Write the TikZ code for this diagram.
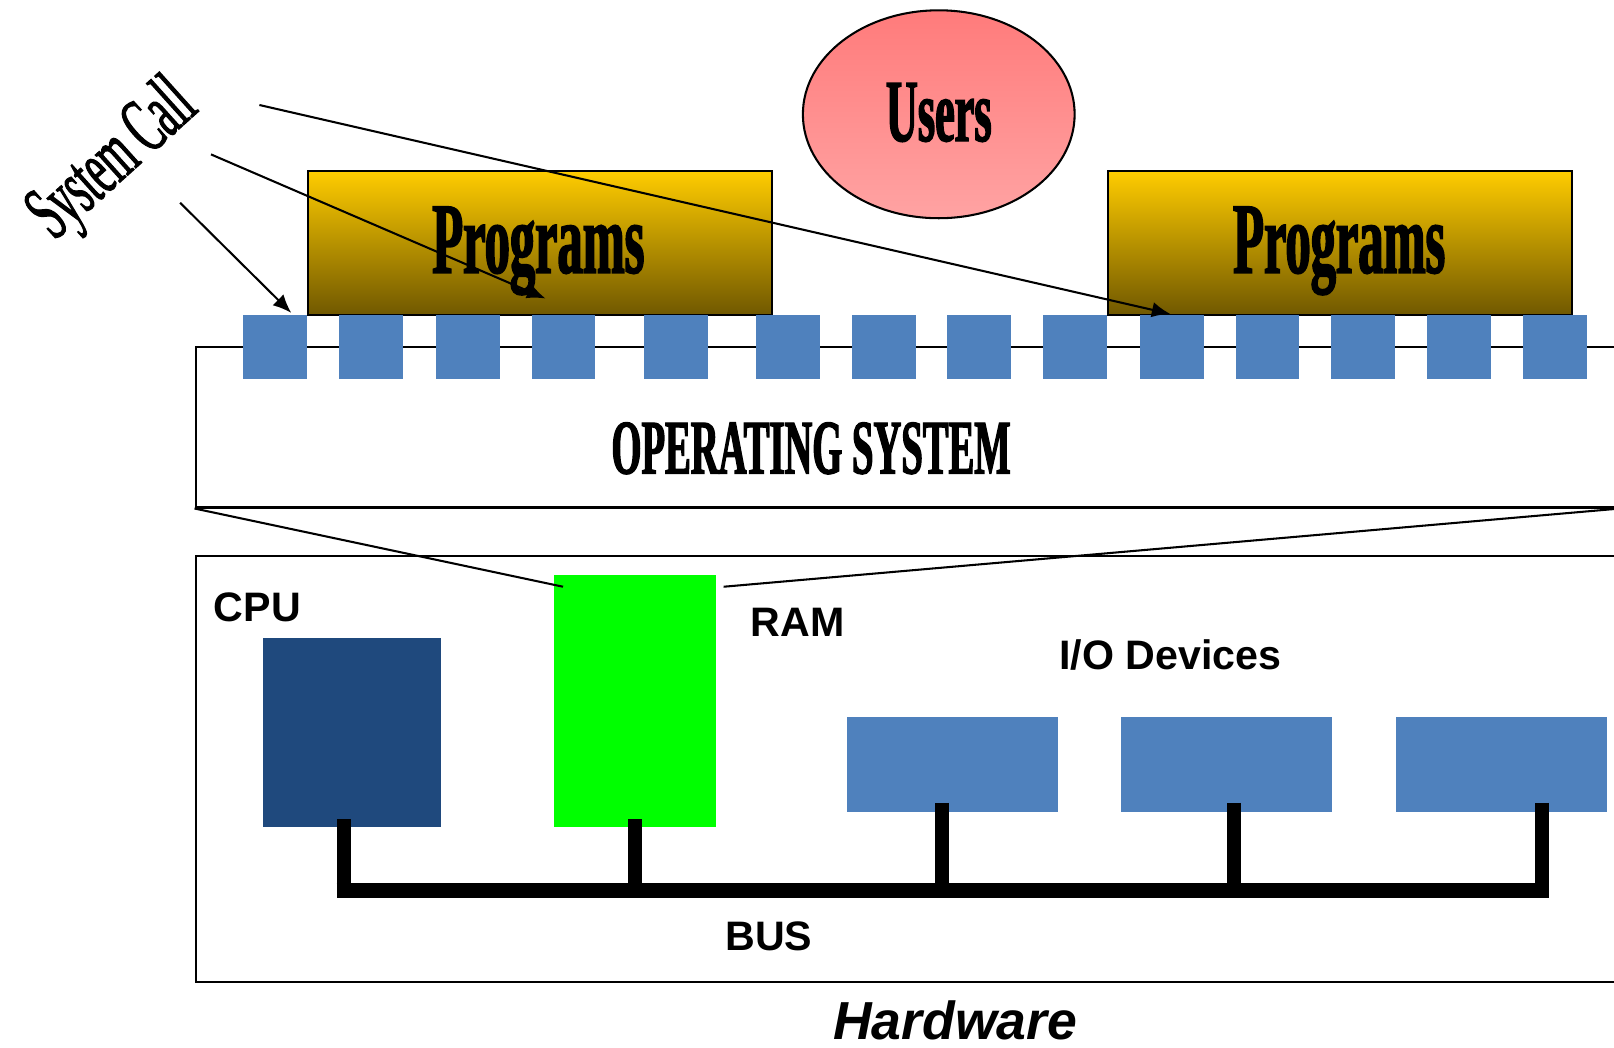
\documentclass[tikz,border=0pt]{standalone}
\usepackage{fontspec}
\setmainfont{Liberation Serif}
\setsansfont{Liberation Sans}
\newfontfamily\condfont[FakeStretch=0.5,BoldFeatures={FakeBold=1.6}]{Liberation Serif}
\newfontfamily\condmed[FakeStretch=0.5,FakeBold=1.3]{Liberation Serif}
\usetikzlibrary{shapes.geometric,arrows.meta}
\definecolor{sqblue}{HTML}{4F81BD}
\definecolor{cpublue}{HTML}{1F497D}
\definecolor{ramgreen}{HTML}{00FF00}
\definecolor{progtop}{HTML}{FFCC00}
\definecolor{progbot}{HTML}{705800}
\definecolor{usertop}{HTML}{FF7B7B}
\definecolor{userbot}{HTML}{FFA3A3}
\begin{document}
\begin{tikzpicture}[x=0.5pt,y=-0.5pt,
  box/.style={rectangle,inner sep=0pt,anchor=north west},
  sqr/.style={box,fill=sqblue,minimum width=31pt,minimum height=31pt},
  progbox/.style={box,draw=black,line width=1pt,top color=progtop,bottom color=progbot,minimum width=225.5pt,minimum height=70pt},
  iobox/.style={box,fill=sqblue,minimum width=102.5pt,minimum height=46pt},
  frame/.style={box,draw=black,line width=1pt},
  cond/.style={inner sep=0pt,font=\condfont\bfseries},
  lab/.style={inner sep=0pt,font=\sffamily\bfseries\fontsize{20pt}{20pt}\selectfont},
  callarrow/.style={draw=black,line width=1pt,-{Latex[length=9pt,width=7.5pt]}},
  thin/.style={draw=black,line width=1pt},
  bus/.style={draw=black,line width=7pt,line cap=butt}
]
\useasboundingbox (0,0) rectangle (1568,1018);
\fill[white] (0,0) rectangle (1568,1018);
\clip (0,0) rectangle (1568,1018);

% users
\node[ellipse,draw=black,line width=1pt,top color=usertop,bottom color=userbot,
      minimum width=132pt,minimum height=101pt,inner sep=0pt] (users) at (912,111) {};
\node[cond,anchor=base,font=\condfont\bfseries\fontsize{43pt}{43pt}\selectfont] (userslab) at (912,137) {Users};

% programs
\node[progbox] (prog1) at (298,165) {};
\node[progbox] (prog2) at (1075,165) {};
\node[cond,anchor=base,font=\condfont\bfseries\fontsize{49pt}{49pt}\selectfont] (prog1lab) at (523,265) {Programs};
\node[cond,anchor=base,font=\condfont\bfseries\fontsize{49pt}{49pt}\selectfont] (prog2lab) at (1301,265) {Programs};

% operating system
\node[frame,minimum width=691.5pt,minimum height=78pt] (os) at (189,336) {};
\node[cond,anchor=base,font=\condfont\bfseries\fontsize{37.5pt}{37.5pt}\selectfont] (oslab) at (788,460) {OPERATING SYSTEM};

% system call squares
\foreach \x [count=\i] in {236,329,423,516,625,734,827,920,1013,1107,1200,1293,1386,1479}
  \node[sqr] (sq\i) at (\x,306) {};

% hardware
\node[frame,minimum width=691.5pt,minimum height=207pt] (hw) at (189,539) {};
\node[box,fill=cpublue,minimum width=86.5pt,minimum height=92pt] (cpu) at (255,619) {};
\node[box,fill=ramgreen,minimum width=78.5pt,minimum height=122.5pt] (ram) at (538,558) {};
\node[iobox] (io1) at (822,696) {};
\node[iobox] (io2) at (1089,696) {};
\node[iobox] (io3) at (1356,696) {};

\node[lab] (cpulab) at (250,590) {CPU};
\node[lab] (ramlab) at (775,605) {RAM};
\node[lab] (iolab) at (1137,636) {I/O Devices};
\node[lab] (buslab) at (747,910) {BUS};
\node[inner sep=0pt,font=\sffamily\bfseries\itshape\fontsize{26pt}{26pt}\selectfont] (hwlab) at (928,991) {Hardware};

% system call label and arrows
\node[inner sep=0pt,rotate=42,font=\condmed\fontsize{39pt}{39pt}\selectfont] (sclab) at (111,157) {System Call};
\coordinate (s1) at (175,197);
\coordinate (s2) at (205,150);
\coordinate (s3) at (252,102);
\coordinate (e1) at (283,304);
\coordinate (e2) at (530,290);
\coordinate (e3) at (1137,305);
\draw[callarrow] (s1) -- (e1);
\draw[callarrow] (s2) -- (e2);
\draw[callarrow] (s3) -- (e3);

% OS to RAM lines
\coordinate (r1) at (547,570);
\coordinate (r2) at (703,570);
\draw[thin] (os.south west) -- (r1);
\draw[thin] (os.south east) -- (r2);

% bus
\coordinate (bl) at (327,865);
\coordinate (br) at (1505,865);
\draw[bus] (bl) -- (br);
\draw[bus] (334,796) -- (334,872);
\draw[bus] (617,796) -- (617,865);
\draw[bus] (915,780) -- (915,865);
\draw[bus] (1199,780) -- (1199,865);
\draw[bus] (1498,780) -- (1498,872);
\end{tikzpicture}
\end{document}
